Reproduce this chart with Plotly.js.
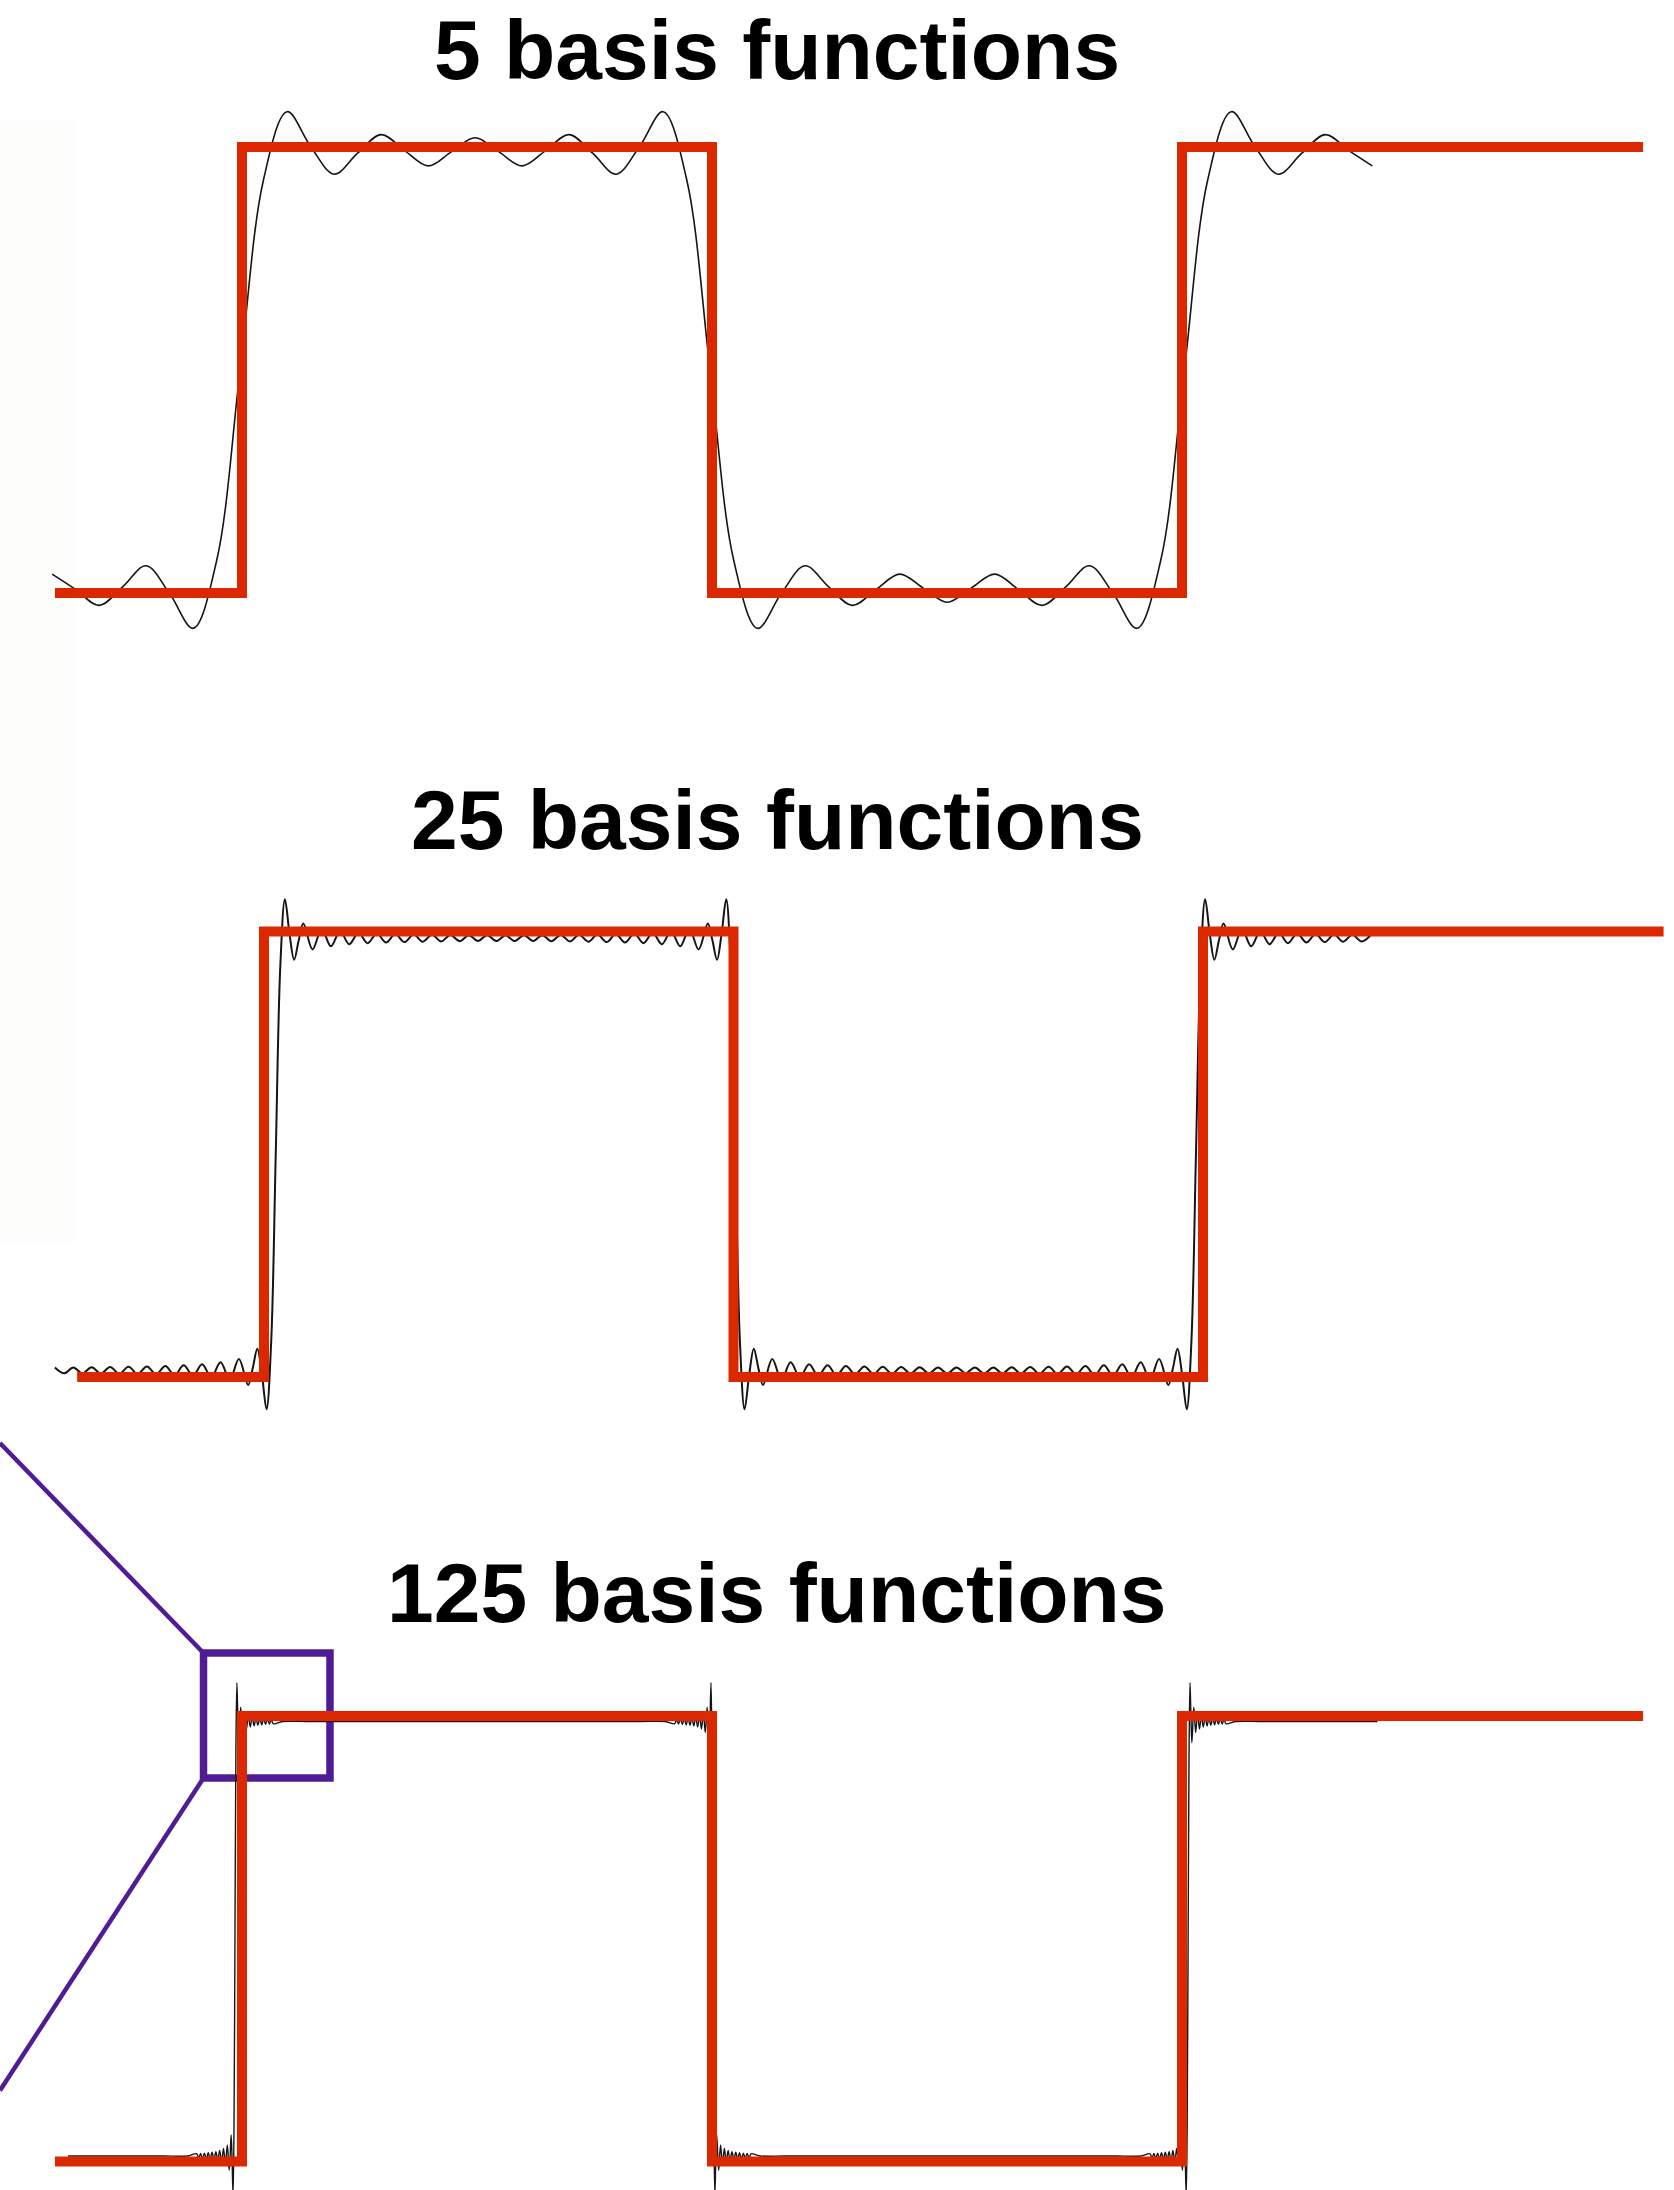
<!DOCTYPE html>
<html>
<head>
<meta charset="utf-8">
<script src="https://cdn.plot.ly/plotly-3.0.1.min.js"></script>
<style>
  body { margin: 0; background: #fff; }
  #plot { width: 1674px; height: 2190px; }
</style>
</head>
<body>
<div id="plot"></div>
<script>
var titles = ["5 basis functions", "25 basis functions", "125 basis functions"];

// target square wave, x in half-periods (jumps at 0, 1, 2), levels -1 / +1
var squareX = [-0.398, 0, 1, 2, 2.981];
var squareY = [-1, 1, -1, 1, 1];

// black approximations:
// jumps = where the curve crosses zero, ripple = one half-period after a rising jump
// (position as fraction of the half-period, height), mirrored about the middle
var jumps5 = [-1.004, -0.004, 0.996, 2.005, 3.005];
var rippleF5 = [0, 0.05, 0.1, 0.15, 0.2, 0.25, 0.3, 0.35, 0.4, 0.45, 0.5];
var rippleV5 = [0, 0.873, 1.182, 1.023, 0.896, 0.992, 1.077, 1.004, 0.934, 0.999, 1.063];
var level5 = 0.98;
var span5 = [-0.417, 2.421];

var jumps25 = [-0.955, 0.025, 1.004, 1.985, 2.965];
var rippleF25 = [0, 0.01, 0.02, 0.03, 0.04, 0.05, 0.06, 0.08, 0.10, 0.12, 0.14, 0.16, 0.18, 0.20,
  0.22, 0.24, 0.26, 0.28, 0.30, 0.32, 0.34, 0.36, 0.38, 0.40, 0.42, 0.44, 0.46, 0.48, 0.50];
var rippleV25 = [0, 0.873, 1.180, 1.020, 0.900, 0.990, 1.068, 0.948, 1.043, 0.963, 1.032, 0.972, 1.025, 0.977,
  1.022, 0.980, 1.019, 0.982, 1.017, 0.984, 1.016, 0.985, 1.015, 0.986, 1.014, 0.987, 1.014, 0.987, 1.013];
var level25 = 0.97;
var span25 = [-0.464, 2.375];

var jumps125 = [-1.03, -0.015, 1.002, 2.013, 3.02];
var rippleF125 = [0, 0.002, 0.004, 0.006, 0.008, 0.012, 0.016, 0.020, 0.024, 0.028, 0.032, 0.036, 0.040,
  0.044, 0.048, 0.052, 0.056, 0.060, 0.064, 0.068, 0.072, 0.076, 0.080, 0.1, 0.15, 0.2, 0.25, 0.3, 0.35,
  0.4, 0.45, 0.5];
var rippleV125 = [0, 0.873, 1.179, 1.021, 0.903, 1.066, 0.950, 1.040, 0.966, 1.029, 0.975, 1.022, 0.980,
  1.018, 0.983, 1.016, 0.985, 1.014, 0.987, 1.012, 0.989, 1.011, 0.990, 1.0, 1.0, 1.0, 1.0, 1.0, 1.0,
  1.0, 1.0, 1.0];
var level125 = 0.975;
var span125 = [-0.417, 2.421];

var W = 1674, H = 2190;

function buildCurve(jumps, rf, rv, level, span) {
    var f = rf.slice(), v = rv.slice();
    for (var i = rf.length - 2; i > 0; i--) {
        f.push(1 - rf[i]);
        v.push(rv[i]);
    }
    var xs = [], ys = [];
    for (var h = 0; h < jumps.length - 1; h++) {
        var a = jumps[h], w = jumps[h + 1] - a;
        var sign = (h % 2 === 0) ? -1 : 1;
        for (var j = 0; j < f.length; j++) {
            var x = a + f[j] * w;
            if (x < span[0] || x > span[1]) continue;
            xs.push(x);
            ys.push(sign * level * v[j]);
        }
    }
    return {x: xs, y: ys};
}

var curves = [
    buildCurve(jumps5, rippleF5, rippleV5, level5, span5),
    buildCurve(jumps25, rippleF25, rippleV25, level25, span25),
    buildCurve(jumps125, rippleF125, rippleV125, level125, span125)
];
var curveWidth = [1.6, 2.0, 1.4];

// panel placement in pixels: band top/bottom, jump x, px per half-period, y of zero, px per unit
var panels = [
    {top: 0, bottom: 700, x0: 242, px: 470, yc: 370, py: 223, titleMid: 50},
    {top: 700, bottom: 1430, x0: 264, px: 469.5, yc: 1154.25, py: 222.75, titleMid: 820},
    {top: 1430, bottom: H, x0: 242, px: 470, yc: 1938.75, py: 222.75, titleMid: 1593}
];

var data = [];
var layout = {
    width: W, height: H,
    margin: {l: 0, r: 0, t: 0, b: 0},
    paper_bgcolor: "#ffffff",
    plot_bgcolor: "rgba(0,0,0,0)",
    showlegend: false,
    annotations: [],
    shapes: [
        {type: "rect", xref: "paper", yref: "paper", x0: 0, x1: 75 / W, y0: 1 - 1242 / H, y1: 1 - 120 / H,
         fillcolor: "#fdfdfc", line: {width: 0}, layer: "below"}
    ]
};

panels.forEach(function(p, i) {
    var n = i === 0 ? "" : String(i + 1);
    layout["xaxis" + n] = {
        domain: [0, 1], anchor: "y" + n, visible: false, fixedrange: true,
        range: [-p.x0 / p.px, (W - p.x0) / p.px]
    };
    layout["yaxis" + n] = {
        domain: [1 - p.bottom / H, 1 - p.top / H], anchor: "x" + n, visible: false, fixedrange: true,
        range: [(p.yc - p.bottom) / p.py, (p.yc - p.top) / p.py]
    };
    data.push({
        x: curves[i].x, y: curves[i].y, xaxis: "x" + n, yaxis: "y" + n,
        type: "scatter", mode: "lines",
        line: {color: "#151515", width: curveWidth[i], shape: "spline", smoothing: 1},
        hoverinfo: "skip"
    });
    data.push({
        x: squareX, y: squareY, xaxis: "x" + n, yaxis: "y" + n,
        type: "scatter", mode: "lines",
        line: {color: "#dc2800", width: 10, shape: "hv"},
        hoverinfo: "skip"
    });
    layout.annotations.push({
        text: "<b>" + titles[i] + "</b>",
        xref: "paper", yref: "paper", x: 777 / W, y: 1 - p.titleMid / H,
        xanchor: "center", yanchor: "middle", showarrow: false,
        font: {family: "Liberation Sans, Arial, Helvetica, sans-serif", size: 84, color: "#000000"}
    });
});

// zoom box round the first jump of the 125 panel, with its two guide lines
var purple = "#4f1c93";
layout.shapes.push(
    {type: "rect", xref: "x3", yref: "y3", x0: -0.0819, x1: 0.1872, y0: 0.7217, y1: 1.2828,
     line: {color: purple, width: 7.5}, layer: "below"},
    {type: "line", xref: "x3", yref: "y3", x0: -0.515, y0: 2.2256, x1: -0.0819, y1: 1.2828,
     line: {color: purple, width: 4.5}, layer: "below"},
    {type: "line", xref: "x3", yref: "y3", x0: -0.515, y0: -0.681, x1: -0.0819, y1: 0.7217,
     line: {color: purple, width: 4.5}, layer: "below"}
);

Plotly.newPlot("plot", data, layout, {staticPlot: true, displayModeBar: false});
</script>
</body>
</html>
